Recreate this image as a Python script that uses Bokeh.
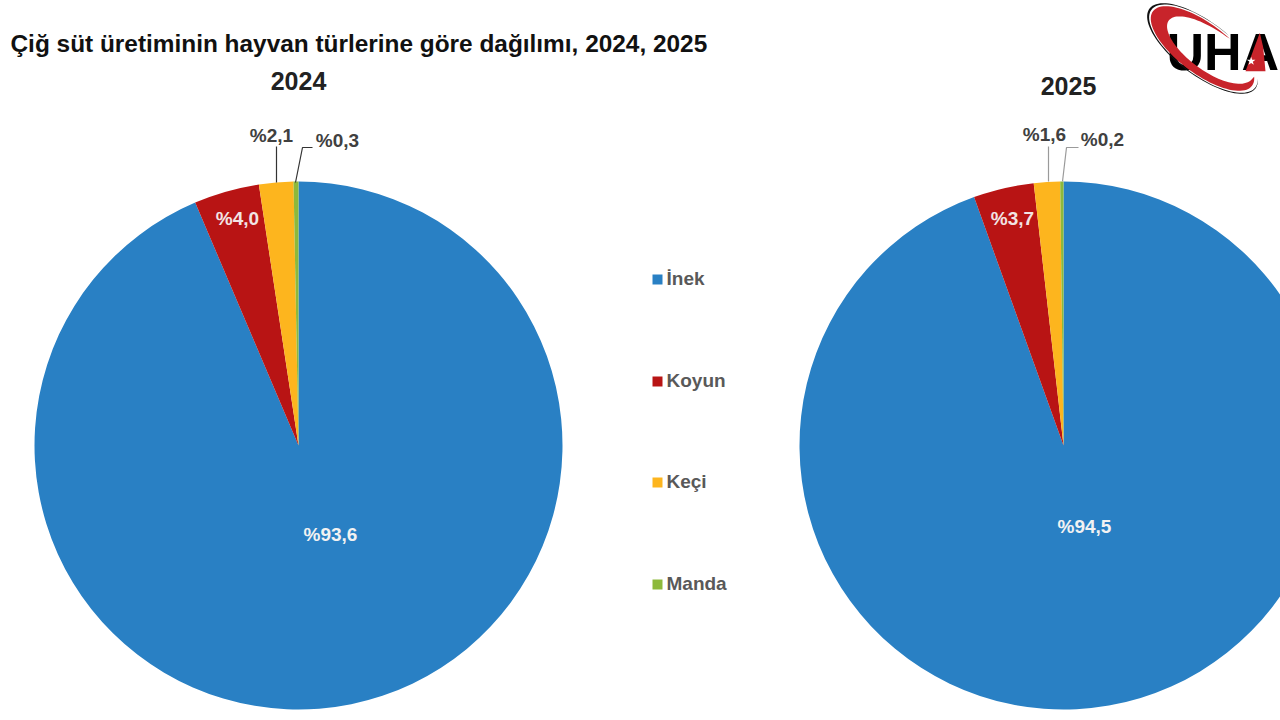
from math import pi

import numpy as np
from bokeh.core.properties import value
from bokeh.embed import file_html
from bokeh.models import Range1d
from bokeh.plotting import figure
from bokeh.resources import INLINE

# Data
title = "Çiğ süt üretiminin hayvan türlerine göre dağılımı, 2024, 2025"
categories = ["İnek", "Koyun", "Keçi", "Manda"]
colors = ["#2980C4", "#B81414", "#FDB51E", "#8DB93B"]
values_2024 = [93.6, 4.0, 2.1, 0.3]
values_2025 = [94.5, 3.7, 1.6, 0.2]
labels_2024 = ["%93,6", "%4,0", "%2,1", "%0,3"]
labels_2025 = ["%94,5", "%3,7", "%1,6", "%0,2"]

FONT = value("Liberation Sans")


def sy(py):
    # picture pixels count from the top, the y range from the bottom
    return 720 - np.asarray(py, dtype=float)


p = figure(width=1280, height=720, x_range=Range1d(0, 1280), y_range=Range1d(0, 720),
           output_backend="svg", toolbar_location=None, min_border=0,
           outline_line_color=None, background_fill_color="white")
p.axis.visible = False
p.grid.visible = False


def pie(cx, cy, radius, vals):
    # first slice starts at twelve o'clock, going clockwise
    cum = np.cumsum([0] + vals) / sum(vals)
    start = pi / 2 - 2 * pi * cum[:-1]
    end = pi / 2 - 2 * pi * cum[1:]
    p.wedge([cx] * len(vals), [sy(cy)] * len(vals), radius, start, end, direction="clock",
            fill_color=colors, line_color=None)


def label(x, y, text, color="#404040", size=19, align="center"):
    p.text([x], [sy(y)], text=[text], text_font=FONT, text_font_style="bold",
           text_font_size=f"{size}px", text_color=color, text_align=align,
           text_baseline="middle")


pie(298, 445, 264, values_2024)
pie(1063, 445, 264, values_2025)

# pie titles and overall title
label(10, 43, title, color="#111111", size=24.4, align="left")
label(298, 80, "2024", color="#222222", size=25)
label(1068, 85, "2025", color="#222222", size=25)

# labels on the slices
label(330, 534, labels_2024[0], color="#F2F2F2")
label(237, 218, labels_2024[1], color="#F2E4E4")
label(1084, 526, labels_2025[0], color="#F2F2F2")
label(1012, 218, labels_2025[1], color="#F2E4E4")

# labels outside, with leader lines
label(271, 135, labels_2024[2])
label(337, 140, labels_2024[3])
label(1044, 134, labels_2025[2])
label(1102, 139, labels_2025[3])
p.line([276, 276], sy([146, 182]), line_color="#333333", line_width=1.2)
p.line([295, 302, 312], sy([182, 147, 147]), line_color="#333333", line_width=1.2)
p.line([1048, 1048], sy([146, 181]), line_color="#9A9A9A", line_width=1.2)
p.line([1062, 1066, 1078], sy([181, 147, 147]), line_color="#9A9A9A", line_width=1.2)

# legend in the middle
legend_y = [279, 381, 482, 584]
p.scatter([657] * 4, sy(legend_y), marker="square", size=10, fill_color=colors, line_color=None)
p.text([666] * 4, sy(np.array(legend_y) - 1), text=categories, text_font=FONT, text_font_style="bold",
       text_font_size="19px", text_color="#595959", text_baseline="middle")


def swoosh(outer, inner):
    # crescent along a tilted ellipse, thickest in the middle of the arc
    t = np.radians(np.linspace(285, -20, 80))
    u = np.linspace(0, 1, 80)
    rot = np.radians(37)

    def edge(scale):
        ex = 62 * scale * np.cos(t)
        ey = 25 * scale * np.sin(t)
        return 1202 + ex * np.cos(rot) - ey * np.sin(rot), 48 + ex * np.sin(rot) + ey * np.cos(rot)

    ox, oy = edge(outer + 0 * u)
    ix, iy = edge(outer - (outer - inner) * np.sin(pi * u) ** 0.8)
    return np.concatenate([ox, ix[::-1]]), np.concatenate([oy, iy[::-1]])


# UHA logo, corner of the picture
p.text([1166], sy([51]), text=["UHA"], text_font=FONT, text_font_style="bold",
       text_font_size="52px", text_color="black", text_baseline="middle")
bx, by = swoosh(1.07, 1.03)
p.patch(bx, sy(by), fill_color="#111111", line_color=None)
rx, ry = swoosh(1.0, 0.67)
p.patch(rx, sy(ry), fill_color="#C8242B", line_color=None)
a_x = 1130 + np.array([388, 345, 405, 398]) / 3
a_y = np.array([97, 212, 212, 140]) / 3
p.patch(a_x, sy(a_y), fill_color="#C8242B", line_color=None)
p.scatter([1130 + 362 / 3], sy([182 / 3]), marker="star", size=9, fill_color="white", line_color=None)

open("out.html", "w").write(file_html(p, INLINE))
